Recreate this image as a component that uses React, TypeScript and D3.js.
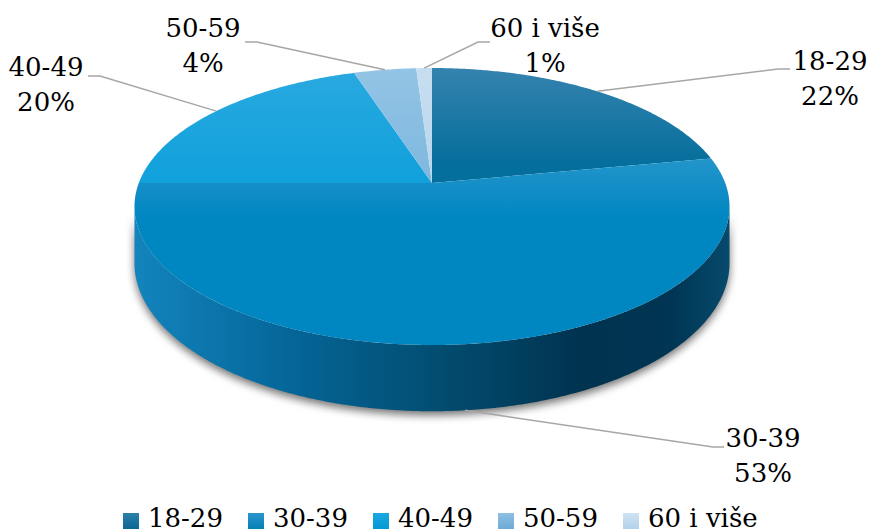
import React from 'react';
import * as d3 from 'd3';

// ---- data ----
const categories = ['18-29', '30-39', '40-49', '50-59', '60 i više'];
const values = [22, 53, 20, 4, 1];
const percentLabels = ['22%', '53%', '20%', '4%', '1%'];

// ---- styling / layout ----
const topColors: [string, string, number][] = [
  ['#3583ae', '#046e9c', 0.35],
  ['#55abd9', '#0086c1', 0.55],
  ['#2aa9e0', '#049dd9', 0.6],
  ['#93c4e5', '#74b2dc', 0.6],
  ['#c7def0', '#b0d1eb', 0.6],
];
const legendColors: [string, string][] = [
  ['#2d80ab', '#0a6893'],
  ['#2a95cb', '#0680b8'],
  ['#1ca8e2', '#0398d4'],
  ['#8ec0e3', '#6eaad6'],
  ['#cfe3f3', '#b2d1ea'],
];
// label layout: text centre x, first baseline y, elbow point, line end
const labelLayout = [
  { tx: 830, ty: 70, ex: 778, ey: 69, lx: 790 },
  { tx: 763, ty: 447, ex: 713, ey: 447, lx: 724 },
  { tx: 46, ty: 76, ex: 100, ey: 76, lx: 88 },
  { tx: 203, ty: 37, ex: 257, ey: 42, lx: 245 },
  { tx: 545, ty: 37, ex: 478, ey: 42, lx: 490 },
];

const W = 869;
const H = 532;
const cx = 432;
const cy = 183;
const A = 293.2;
const B = 134.5;
const K = 0.1697;
const DEPTH = 55;
const FONT = 26;

function proj(theta: number, drop = 0): [number, number] {
  const u = Math.sin(theta);
  const v = -Math.cos(theta);
  const w = 1 - K * v;
  return [cx + (A * u) / w, cy + (B * v + drop) / w];
}

function arcPoints(a0: number, a1: number, drop = 0): [number, number][] {
  const n = Math.max(2, Math.ceil(Math.abs(a1 - a0) / (Math.PI / 360)));
  const pts: [number, number][] = [];
  for (let i = 0; i <= n; i++) pts.push(proj(a0 + ((a1 - a0) * i) / n, drop));
  return pts;
}

export default function App() {
  const pie = d3.pie<number>().sort(null).value((d) => d);
  const arcs = pie(values);
  const line = d3.line();

  // visible side wall (front silhouette)
  const sA = Math.acos(-K);
  const sB = 2 * Math.PI - sA;
  const sideTop = arcPoints(sA, sB, 0);
  const sideBot = arcPoints(sB, sA, DEPTH);
  const sidePath = line([...sideTop, ...sideBot]) + 'Z';

  return (
    <svg
      width={W}
      height={H}
      style={{ position: 'absolute', left: 0, top: 0, background: '#fff' }}
      fontFamily="'DejaVu Serif', serif"
    >
      <defs>
        <filter id="shadow" x="-20%" y="-20%" width="140%" height="160%">
          <feGaussianBlur stdDeviation="4" />
        </filter>
        <linearGradient id="side" gradientUnits="userSpaceOnUse" x1={135} x2={730} y1={0} y2={0}>
          <stop offset="0" stopColor="#1384bd" />
          <stop offset="0.25" stopColor="#05679a" />
          <stop offset="0.5" stopColor="#024e72" />
          <stop offset="0.75" stopColor="#00334f" />
          <stop offset="0.9" stopColor="#003553" />
          <stop offset="1" stopColor="#074a6c" />
        </linearGradient>
        {topColors.map((c, i) => (
          <linearGradient key={i} id={`top${i}`} gradientUnits="userSpaceOnUse" x1={0} x2={0} y1={68} y2={345}>
            <stop offset="0" stopColor={c[0]} />
            <stop offset={c[2]} stopColor={c[1]} />
            <stop offset="1" stopColor={c[1]} />
          </linearGradient>
        ))}
        {legendColors.map((c, i) => (
          <linearGradient key={i} id={`leg${i}`} x1={0} x2={0} y1={0} y2={1}>
            <stop offset="0" stopColor={c[0]} />
            <stop offset="1" stopColor={c[1]} />
          </linearGradient>
        ))}
      </defs>

      {/* shadow */}
      <path d={sidePath} fill="#000" opacity={0.55} transform="translate(0,4)" filter="url(#shadow)" />
      {/* side */}
      <path d={sidePath} fill="url(#side)" />

      {/* top slices */}
      {arcs.map((a, i) => {
        const pts = [[cx, cy] as [number, number], ...arcPoints(a.startAngle, a.endAngle, 0)];
        return <path key={i} d={line(pts) + 'Z'} fill={`url(#top${i})`} />;
      })}

      {/* leader lines & labels */}
      {arcs.map((a, i) => {
        const mid = (a.startAngle + a.endAngle) / 2;
        const L = labelLayout[i];
        const isFront = Math.cos(mid) < -K;
        const anchor = proj(mid, isFront ? DEPTH : 0);
        const pts: [number, number][] = [anchor, [L.ex, L.ey], [L.lx, L.ey]];
        return (
          <g key={i}>
            <path d={line(pts) || ''} fill="none" stroke="#a6a6a6" strokeWidth={1.5} />
            <text x={L.tx} y={L.ty} textAnchor="middle" fontSize={FONT} fill="#000">
              {categories[i]}
            </text>
            <text x={L.tx} y={L.ty + 35} textAnchor="middle" fontSize={FONT} fill="#000">
              {percentLabels[i]}
            </text>
          </g>
        );
      })}

      {/* legend */}
      {categories.map((c, i) => (
        <g key={c} transform={`translate(${123 + i * 125},0)`}>
          <rect x={0} y={513} width={16} height={16} fill={`url(#leg${i})`} />
          <text x={25} y={527} fontSize={FONT} fill="#000">
            {c}
          </text>
        </g>
      ))}
    </svg>
  );
}
